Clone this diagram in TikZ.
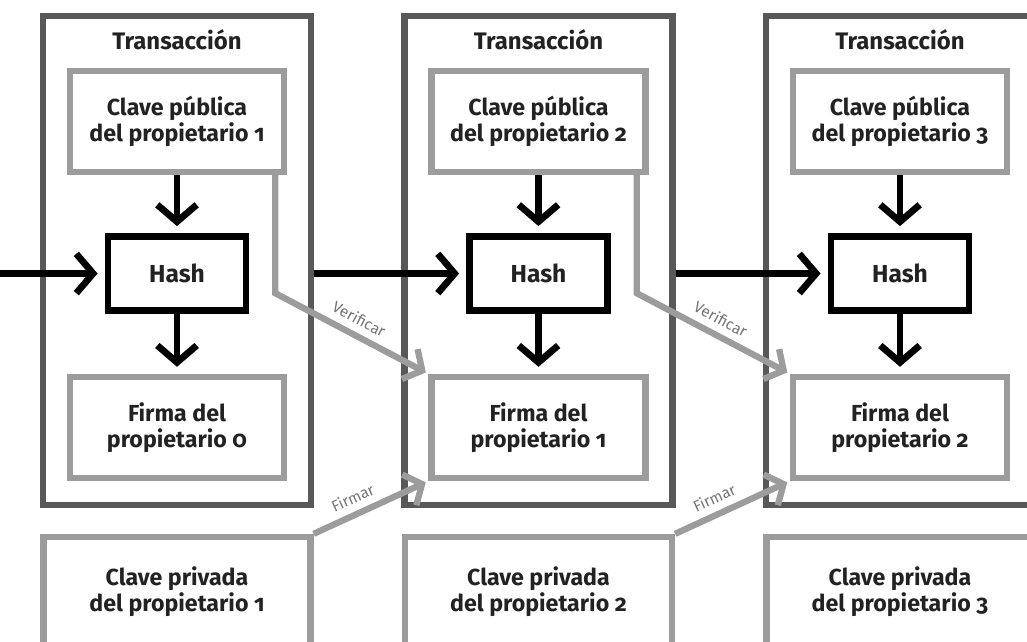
\documentclass[tikz,border=0pt]{standalone}
\usepackage{fontspec}
\setmainfont{Fira Sans}[Numbers=OldStyle]
\usetikzlibrary{arrows.meta,positioning}
\definecolor{marco}{HTML}{585858}
\definecolor{gris}{HTML}{9C9C9C}
\definecolor{texto}{HTML}{222222}
\begin{document}
\begin{tikzpicture}[
  marco/.style={draw=marco, line width=4.8pt, minimum width=6.7cm, minimum height=12.225cm, inner sep=0pt},
  caja/.style={draw=gris, line width=4.5pt, minimum width=5.35cm, minimum height=2.525cm, align=center, text=texto,
    font=\bfseries\fontsize{16.5}{18.5}\selectfont},
  privada/.style={caja, minimum width=6.675cm, minimum height=2.75cm},
  hashbox/.style={draw=black, line width=4.8pt, minimum width=3.45cm, minimum height=1.85cm, text=texto,
    font=\bfseries\fontsize{17.5}{18.5}\selectfont},
  titulo/.style={text=texto, font=\bfseries\fontsize{17}{18}\selectfont},
  flecha/.style={line width=4.8pt, -{Straight Barb[length=12pt,width=28pt]}, shorten >=5pt},
  gflecha/.style={draw=gris, line width=4.5pt, -{Straight Barb[length=10pt,width=24pt]}, shorten >=2pt},
  etiqueta/.style={text=gris!75!black, font=\fontsize{11}{12}\selectfont, inner sep=5pt}
]
\useasboundingbox (0,0) rectangle (25.675,16.05);
\clip (0,0) rectangle (25.675,16.05);
% tres transacciones
\foreach \i [evaluate=\i as \x using (\i-1)*9.0375] in {1,2,3} {
  \node[marco] (trans\i) at (4.425+\x, 9.5375) {};
  \node[titulo] (tit\i) at ([yshift=-0.675cm]trans\i.north) {Transacción};
  \node[caja] (pub\i) at (4.425+\x, 13.0125) {Clave pública\\del propietario \i};
  \node[hashbox] (hash\i) at (4.425+\x, 9.2125) {Hash};
  \node[caja] (firma\i) at (4.425+\x, 5.3625) {Firma del\\propietario \pgfmathparse{int(\i-1)}\pgfmathresult};
  \node[privada] (priv\i) at (4.425+\x, 1.25) {Clave privada\\del propietario \i};
  \draw[flecha] (pub\i) -- (hash\i);
  \draw[flecha] (hash\i) -- (firma\i);
}
\coordinate (entrada) at (-0.1, 9.2125);
\draw[flecha] (entrada) -- (hash1);
% enlaces entre transacciones
\foreach \i/\j in {1/2,2/3} {
  \draw[flecha] (trans\i.east |- hash\j.west) -- (hash\j);
  \draw[gflecha] ([xshift=-0.3cm]pub\i.south east) -- ++(0,-2.95)
    -- (firma\j.north west) node[midway, above, sloped, etiqueta] {Verificar};
  \draw[gflecha] (priv\i.north east) -- (firma\j.south west) node[pos=0.4, above, sloped, etiqueta] {Firmar};
}
\end{tikzpicture}
\end{document}
